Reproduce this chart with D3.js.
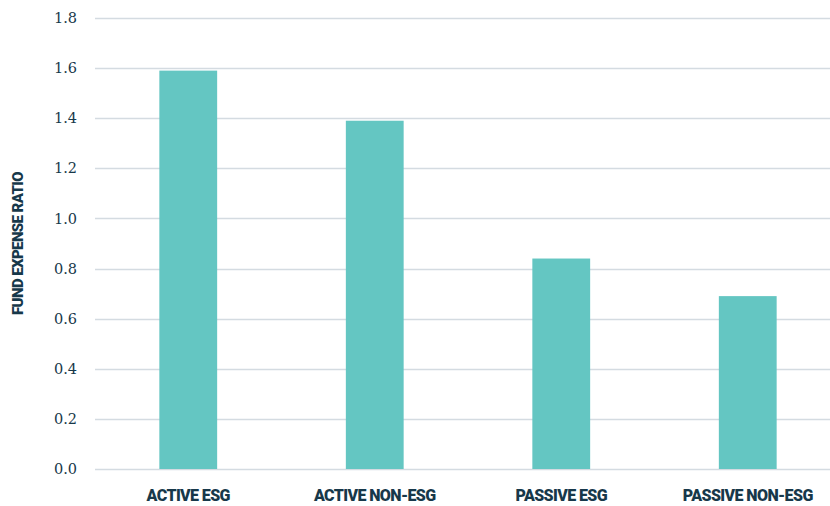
<!DOCTYPE html>
<html>
<head>
<meta charset="utf-8">
<script src="https://cdn.jsdelivr.net/npm/d3@7"></script>
<style>
  body { margin: 0; background: #fff; }
  .ytick text { font-family: "DejaVu Serif", "Liberation Serif", serif; }
</style>
</head>
<body>
<script>
// categories and values
const categories = ['ACTIVE ESG', 'ACTIVE NON-ESG', 'PASSIVE ESG', 'PASSIVE NON-ESG'];
const ratios = [1.59, 1.39, 0.84, 0.69];
const yTicks = [0, 0.2, 0.4, 0.6, 0.8, 1.0, 1.2, 1.4, 1.6, 1.8];

const data = categories.map((c, i) => ({name: c, value: ratios[i]}));

const width = 830;
const height = 506;
const margin = {top: 18, right: 0, bottom: 37, left: 95};
const textColor = '#17384a';

const svg = d3.select('body')
  .append('svg')
  .attr('width', width)
  .attr('height', height);

const yScale = d3.scaleLinear()
  .domain([0, 1.8])
  .range([height - margin.bottom, margin.top]);

const xScale = d3.scaleBand()
  .domain(categories)
  .range([margin.left, 841])
  .paddingInner(0.69)
  .paddingOuter(0.345);

// gridlines
svg.append('g')
  .selectAll('line')
  .data(yTicks)
  .join('line')
  .attr('x1', margin.left)
  .attr('x2', width)
  .attr('y1', d => Math.round(yScale(d)) + 0.5)
  .attr('y2', d => Math.round(yScale(d)) + 0.5)
  .attr('stroke', '#d4dbe1')
  .attr('stroke-width', 1.5);

// y axis labels
const yAxis = d3.axisLeft(yScale)
  .tickValues(yTicks)
  .tickFormat(d3.format('.1f'))
  .tickSize(0)
  .tickPadding(18);

svg.append('g')
  .attr('class', 'ytick')
  .attr('transform', `translate(${margin.left},0)`)
  .call(yAxis)
  .call(g => g.select('.domain').remove())
  .call(g => g.attr('font-family', null))
  .selectAll('text')
  .style('font-size', '14.5px')
  .attr('fill', textColor);

// bars
svg.append('g')
  .selectAll('rect')
  .data(data)
  .join('rect')
  .attr('x', d => xScale(d.name))
  .attr('y', d => yScale(d.value))
  .attr('width', xScale.bandwidth())
  .attr('height', d => yScale(0) - yScale(d.value))
  .attr('fill', '#64c6c2');

// x axis labels
const xAxis = d3.axisBottom(xScale).tickSize(0).tickPadding(21);

svg.append('g')
  .attr('transform', `translate(0, ${height - margin.bottom})`)
  .call(xAxis)
  .call(g => g.select('.domain').remove())
  .selectAll('text')
  .style('font-family', 'Roboto, sans-serif')
  .style('font-weight', '900')
  .style('font-size', '16px')
  .style('letter-spacing', '-0.6px')
  .attr('fill', textColor);

// y axis title
svg.append('text')
  .attr('transform', `translate(23, ${(margin.top + height - margin.bottom) / 2}) rotate(-90)`)
  .attr('text-anchor', 'middle')
  .style('font-family', 'Roboto, sans-serif')
  .style('font-weight', '900')
  .style('font-size', '15px')
  .style('letter-spacing', '-0.6px')
  .attr('fill', textColor)
  .text('FUND EXPENSE RATIO');
</script>
</body>
</html>
